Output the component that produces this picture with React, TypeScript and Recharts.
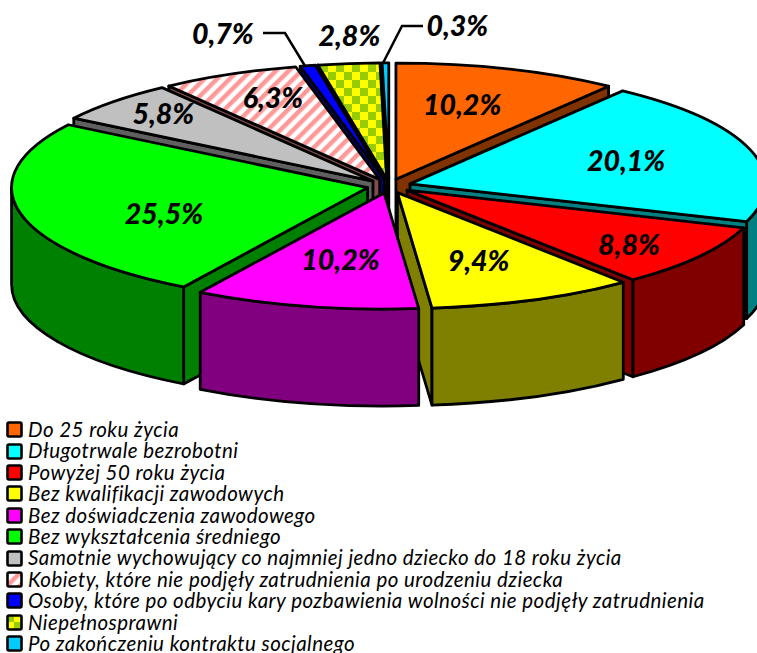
import { Legend, Pie, PieChart } from "recharts"

const names = [
  "Do 25 roku życia",
  "Długotrwale bezrobotni",
  "Powyżej 50 roku życia",
  "Bez kwalifikacji zawodowych",
  "Bez doświadczenia zawodowego",
  "Bez wykształcenia średniego",
  "Samotnie wychowujący co najmniej jedno dziecko do 18 roku życia",
  "Kobiety, które nie podjęły zatrudnienia po urodzeniu dziecka",
  "Osoby, które po odbyciu kary pozbawienia wolności nie podjęły zatrudnienia",
  "Niepełnosprawni",
  "Po zakończeniu kontraktu socjalnego",
]
const values = [10.2, 20.1, 8.8, 9.4, 10.2, 25.5, 5.8, 6.3, 0.7, 2.8, 0.3]
const valueLabels = ["10,2%", "20,1%", "8,8%", "9,4%", "10,2%", "25,5%", "5,8%", "6,3%", "0,7%", "2,8%", "0,3%"]
const topFills = ["#FF6600", "#00FFFF", "#FF0000", "#FFFF00", "#FF00FF", "#00FF00", "#C0C0C0", "url(#hatch)", "#0000FF", "url(#checker)", "#00CCFF"]
const sideFills = ["#803300", "#008080", "#800000", "#808000", "#800080", "#008000", "#606060", "#804C4C", "#000080", "#666600", "#006680"]

// back to front, the pie has no z-index so each slice gets its own <Pie>
const paintOrder = [10, 9, 8, 7, 6, 0, 1, 5, 2, 3, 4]

const data = names.map((name, i) => ({ name, value: values[i] }))

const RX = 356
const RY = 116
const DEPTH = 97
const EXPLODE = 22
const SQUASH = RY / RX
const LABEL_FRAC = 0.6
const labelNudge = [
  [-1, -9], [12, -3], [46.5, 14], [-0.5, 3], [3.5, -2], [4.5, 10], [-54, -20], [-16.5, -19], [-115.5, -78], [-14.5, -75], [70.5, -84],
]

const toRad = (d: number) => (d * Math.PI) / 180

function Slice(props: any) {
  const { cx, cy, startAngle, endAngle, index, only } = props
  if (index !== only) return null
  // recharts angles are counter-clockwise from 3 o'clock, flip to clockwise from 12
  const a0 = 90 - startAngle
  const a1 = 90 - endAngle
  const mid = (a0 + a1) / 2
  const tx = cx + EXPLODE * Math.sin(toRad(mid))
  const ty = cy - EXPLODE * SQUASH * Math.cos(toRad(mid))
  const pt = (a: number) => [tx + RX * Math.sin(toRad(a)), ty - RY * Math.cos(toRad(a))]
  const [sx, sy] = pt(a0)
  const [ex, ey] = pt(a1)
  const large = a1 - a0 > 180 ? 1 : 0
  const stroke = { stroke: "#000", strokeWidth: 2.8, strokeLinejoin: "round" as const }
  const side = sideFills[index]
  const faces = []

  if (Math.sin(toRad(a0)) < 0) {
    faces.push(<path key="s" d={`M${tx} ${ty}L${sx} ${sy}L${sx} ${sy + DEPTH}L${tx} ${ty + DEPTH}Z`} fill={side} {...stroke} />)
  }
  if (Math.sin(toRad(a1)) > 0) {
    faces.push(<path key="e" d={`M${tx} ${ty}L${ex} ${ey}L${ex} ${ey + DEPTH}L${tx} ${ty + DEPTH}Z`} fill={side} {...stroke} />)
  }
  const w0 = Math.max(a0, 90)
  const w1 = Math.min(a1, 270)
  if (w1 > w0) {
    const [wx0, wy0] = pt(w0)
    const [wx1, wy1] = pt(w1)
    faces.push(
      <path
        key="w"
        d={`M${wx0} ${wy0}A${RX} ${RY} 0 0 1 ${wx1} ${wy1}L${wx1} ${wy1 + DEPTH}A${RX} ${RY} 0 0 0 ${wx0} ${wy0 + DEPTH}Z`}
        fill={side}
        {...stroke}
      />,
    )
  }
  return (
    <g>
      {faces}
      <path d={`M${tx} ${ty}L${sx} ${sy}A${RX} ${RY} 0 ${large} 1 ${ex} ${ey}Z`} fill={topFills[index]} {...stroke} />
    </g>
  )
}

function ValueLabel(props: any) {
  const { cx, cy, startAngle, endAngle, index } = props
  const mid = 90 - (startAngle + endAngle) / 2
  const s = Math.sin(toRad(mid))
  const c = Math.cos(toRad(mid))
  const x = cx + EXPLODE * s + LABEL_FRAC * RX * s + labelNudge[index][0]
  const y = cy - EXPLODE * SQUASH * c - LABEL_FRAC * RY * c + labelNudge[index][1]
  return (
    <text x={x} y={y} textAnchor="middle" dominantBaseline="central" fontFamily="Lato" fontStyle="italic" fontWeight={900} fontSize={28.5} fill="#000">
      {valueLabels[index]}
    </text>
  )
}

function LegendList() {
  return (
    <div style={{ fontFamily: "Lato", fontStyle: "italic", fontSize: 20.5, letterSpacing: 0.45, lineHeight: "21.4px", color: "#000", whiteSpace: "nowrap" }}>
      {names.map((name, i) => (
        <div key={name} style={{ display: "flex", alignItems: "center", height: 21.4 }}>
          <svg width={17} height={17} style={{ marginRight: 5, flex: "none" }}>
            <rect x={1.5} y={1.5} width={14} height={14} rx={1.5} fill={topFills[i]} stroke="#000" strokeWidth={2.6} />
          </svg>
          {name}
        </div>
      ))}
    </div>
  )
}

export default function App() {
  return (
    <div style={{ position: "absolute", left: 0, top: 0, width: 757, height: 653, overflow: "hidden", background: "#fff" }}>
      <PieChart width={757} height={653} margin={{ top: 0, right: 0, bottom: 0, left: 0 }}>
        <defs>
          <pattern id="hatch" width="9" height="9" patternUnits="userSpaceOnUse" patternTransform="rotate(45)">
            <rect width="9" height="9" fill="#fff" />
            <rect width="4.5" height="9" fill="#FF9999" />
          </pattern>
          <pattern id="checker" width="16" height="16" patternUnits="userSpaceOnUse">
            <rect width="16" height="16" fill="#FFFF00" />
            <rect width="8" height="8" fill="#99CC00" />
            <rect x="8" y="8" width="8" height="8" fill="#99CC00" />
          </pattern>
        </defs>
        {paintOrder.map((only) => (
          <Pie
            key={only}
            data={data}
            dataKey="value"
            nameKey="name"
            cx={389}
            cy={186}
            outerRadius={RX}
            startAngle={90}
            endAngle={-270}
            isAnimationActive={false}
            legendType="none"
            shape={(p: any) => <Slice {...p} only={only} />}
            label={only === 4 ? (p: any) => <ValueLabel {...p} /> : false}
            labelLine={false}
          />
        ))}
        <polyline points="263,33 285,33 305,66" fill="none" stroke="#000" strokeWidth={2.5} />
        <polyline points="423,26 402,26 383,63" fill="none" stroke="#000" strokeWidth={2.5} />
        <Legend content={<LegendList />} layout="horizontal" align="left" verticalAlign="bottom" wrapperStyle={{ left: 6, top: 419, bottom: "auto", width: 750 }} />
      </PieChart>
    </div>
  )
}
